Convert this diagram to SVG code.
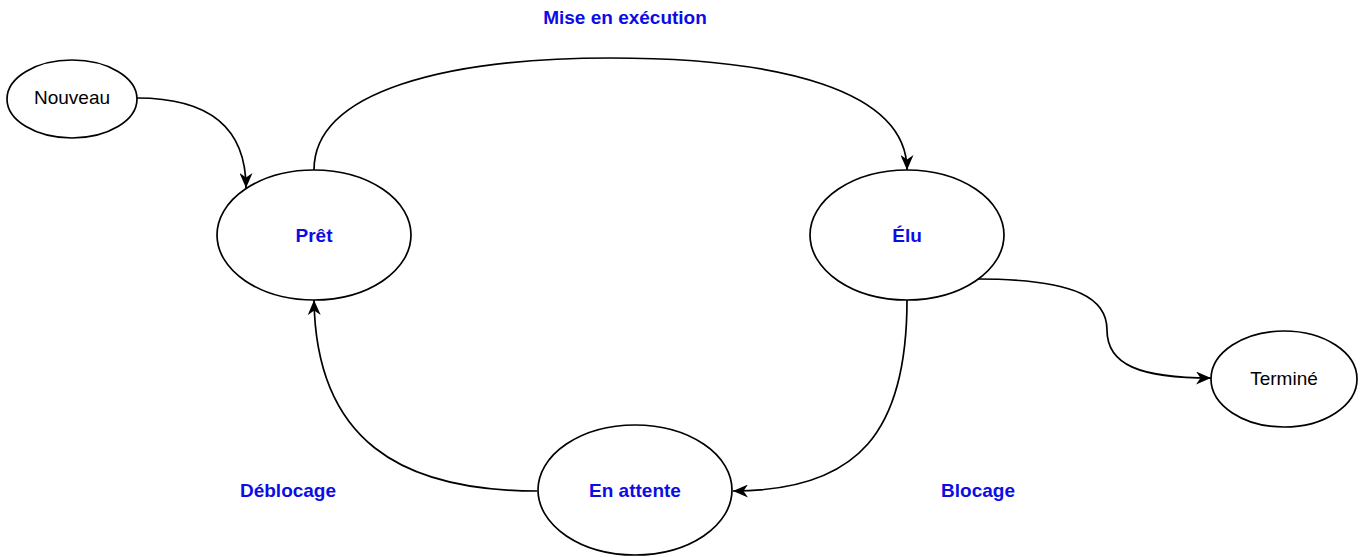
<svg xmlns="http://www.w3.org/2000/svg" width="1367" height="557" viewBox="0 0 1367 557">
<style>
.node{fill:#fff;stroke:#000;stroke-width:1.7}
.edge{fill:none;stroke:#000;stroke-width:1.7;marker-end:url(#arr)}
.t{font-family:"Liberation Sans",Arial,sans-serif;font-size:19px;text-anchor:middle;fill:#000}
.b{font-weight:bold;fill:#0c0ce6}
</style>
<defs>
<marker id="arr" viewBox="0 0 15 13" markerWidth="15" markerHeight="13" refX="15" refY="6.5" orient="auto" markerUnits="userSpaceOnUse">
<path d="M0,0 L15,6.5 L0,13 L4.5,6.5 z" fill="#000"/>
</marker>
</defs>
<rect width="1367" height="557" fill="#fff"/>
<g id="connectors">
<path class="edge" d="M137,98 C200,98 246,120 246,188"/>
<path class="edge" d="M314,170 C314,90 450,58 610,58 C780,58 907,90 907,170"/>
<path class="edge" d="M907,300 C907,430 860,491 733,491"/>
<path class="edge" d="M537,491 C400,491 316,440 314,300"/>
<path class="edge" d="M977,279 C1080,279 1107,300 1107,330 C1107,365 1140,378 1211,378"/>
</g>
<g id="nouveau"><ellipse class="node" cx="72" cy="99" rx="65" ry="39"/><text class="t" x="72" y="104">Nouveau</text></g>
<g id="pret"><ellipse class="node" cx="314" cy="235" rx="97" ry="65"/><text class="t b" x="314" y="242">Prêt</text></g>
<g id="elu"><ellipse class="node" cx="907" cy="235" rx="97" ry="65"/><text class="t b" x="907" y="242">Élu</text></g>
<g id="termine"><ellipse class="node" cx="1284" cy="379" rx="73" ry="48"/><text class="t" x="1284" y="385">Terminé</text></g>
<g id="attente"><ellipse class="node" cx="635" cy="490" rx="97" ry="65"/><text class="t b" x="635" y="497">En attente</text></g>
<g id="labels">
<text class="t b" x="625" y="24">Mise en exécution</text>
<text class="t b" x="288" y="497">Déblocage</text>
<text class="t b" x="978" y="497">Blocage</text>
</g>
</svg>
